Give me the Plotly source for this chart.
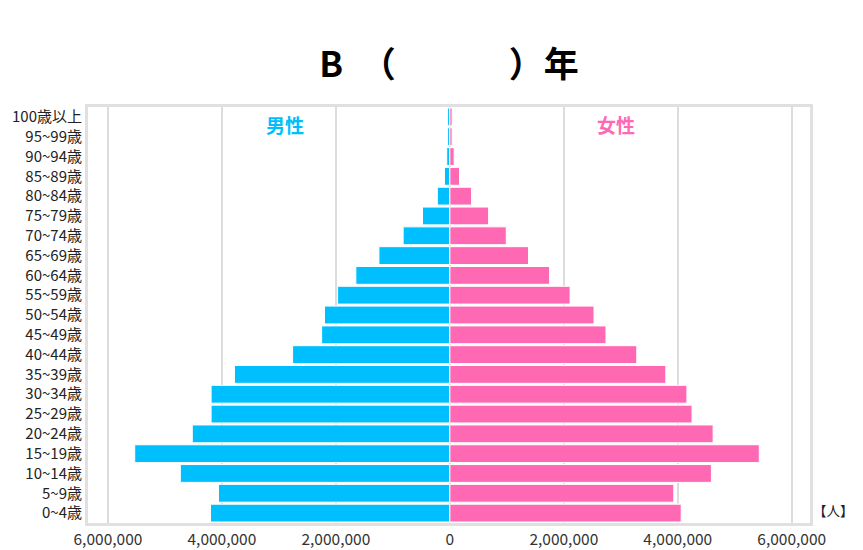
import plotly.graph_objects as go

# age groups, youngest first (plotted bottom -> top)
age_groups = [
    "0~4歳", "5~9歳", "10~14歳", "15~19歳", "20~24歳", "25~29歳", "30~34歳",
    "35~39歳", "40~44歳", "45~49歳", "50~54歳", "55~59歳", "60~64歳", "65~69歳",
    "70~74歳", "75~79歳", "80~84歳", "85~89歳", "90~94歳", "95~99歳", "100歳以上",
]

# population (persons)
male = [
    4200000, 4060000, 4730000, 5530000, 4520000, 4190000, 4190000,
    3780000, 2760000, 2250000, 2200000, 1970000, 1650000, 1245000,
    820000, 480000, 220000, 95000, 55000, 40000, 40000,
]
female = [
    4060000, 3930000, 4590000, 5430000, 4620000, 4250000, 4160000,
    3790000, 3280000, 2740000, 2530000, 2110000, 1750000, 1380000,
    990000, 680000, 380000, 170000, 75000, 40000, 40000,
]

tick_vals = [-6000000, -4000000, -2000000, 0, 2000000, 4000000, 6000000]
tick_text = ["6,000,000", "4,000,000", "2,000,000", "0", "2,000,000", "4,000,000", "6,000,000"]

MALE_COLOR = "#00BFFF"
FEMALE_COLOR = "#FF69B4"
FONT = "Noto Sans CJK JP"

# the page adds an 8px body margin, so the figure is drawn 8px smaller
W, H = 855, 542
ML, MR, MT, MB = 80, 53, 99, 27
PLOT_W, PLOT_H = W - ML - MR, H - MT - MB

fig = go.Figure()

fig.add_trace(go.Bar(
    y=age_groups, x=[-v for v in male], orientation="h",
    name="男性", marker=dict(color=MALE_COLOR, line=dict(color="white", width=1)),
    customdata=male, hovertemplate="%{y}: %{customdata:,}<extra>男性</extra>",
))
fig.add_trace(go.Bar(
    y=age_groups, x=female, orientation="h",
    name="女性", marker=dict(color=FEMALE_COLOR, line=dict(color="white", width=1)),
    hovertemplate="%{y}: %{x:,}<extra>女性</extra>",
))

fig.update_layout(
    width=W, height=H,
    barmode="overlay", bargap=0.1,
    showlegend=False,
    plot_bgcolor="white", paper_bgcolor="white",
    font=dict(family=FONT, size=14, color="#222"),
    margin=dict(l=ML, r=MR, t=MT, b=MB, autoexpand=False),
    title=dict(
        text="<b>B　（　　　 ）年</b>",
        x=0.5, xref="paper", xanchor="center",
        y=1 - 57 / H, yref="container", yanchor="middle",
        font=dict(family=FONT, size=35, color="black"),
    ),
)

fig.update_xaxes(
    range=[-6350000, 6320000],
    tickvals=tick_vals, ticktext=tick_text,
    tickfont=dict(size=15.5, color="#333"),
    showgrid=True, gridcolor="#dcdcdc", gridwidth=2,
    zeroline=True, zerolinecolor="#dcdcdc", zerolinewidth=2,
    showline=True, linecolor="#e0e0e0", linewidth=3, mirror=True,
    ticks="", fixedrange=True, automargin=False,
)
fig.update_yaxes(
    tickfont=dict(size=15, color="#222"),
    showgrid=False,
    showline=True, linecolor="#e0e0e0", linewidth=3, mirror=True,
    ticks="", fixedrange=True, automargin=False,
)

label_y = 1 - 18 / PLOT_H
fig.add_annotation(x=0.273, y=label_y, xref="paper", yref="paper", text="<b>男性</b>",
                   xanchor="center", yanchor="middle", showarrow=False,
                   font=dict(family=FONT, size=19, color=MALE_COLOR))
fig.add_annotation(x=0.731, y=label_y, xref="paper", yref="paper", text="<b>女性</b>",
                   xanchor="center", yanchor="middle", showarrow=False,
                   font=dict(family=FONT, size=19, color=FEMALE_COLOR))
fig.add_annotation(x=1 + 24 / PLOT_W, y=13 / PLOT_H, xref="paper", yref="paper",
                   text="【人】", xanchor="center", yanchor="middle", showarrow=False,
                   font=dict(family=FONT, size=13.5, color="#222"))

fig.write_html("out.html")
